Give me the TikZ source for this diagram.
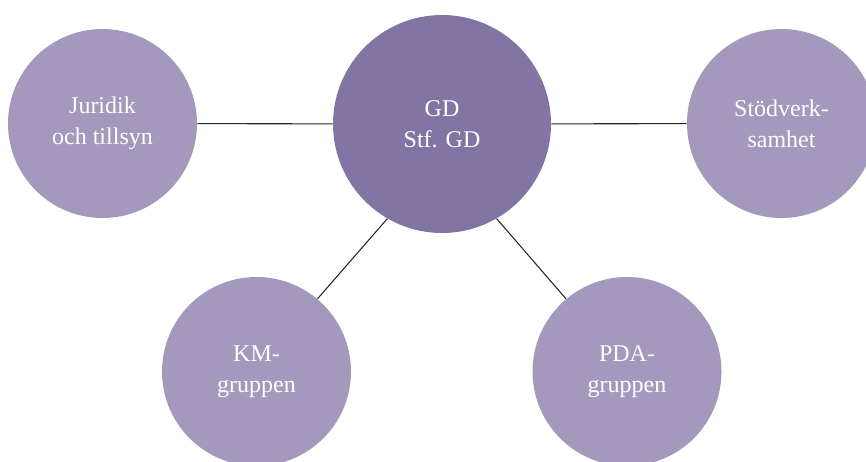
\documentclass[tikz,border=0pt]{standalone}
\usepackage{fontspec}
\setmainfont{Liberation Serif}
\usepackage{xcolor}
\definecolor{lilac}{RGB}{164,152,188}
\definecolor{plum}{RGB}{130,117,163}
\tikzset{
    unit-circle/.style = {circle, fill=lilac, text=white, minimum size=141.75pt, inner sep=0pt, align=center, font=\fontsize{18}{23.5}\selectfont},
    head-circle/.style = {unit-circle, fill=plum, minimum size=163.5pt},
    link-line/.style = {draw=black!85, line width=0.8pt},
}
\begin{document}
\begin{tikzpicture}[x=0.75pt, y=-0.75pt]
\useasboundingbox (0,0) rectangle (866,461);
\clip (0,0) rectangle (866,461);
\node [head-circle] (gd) at (442,124) {GD\\Stf. GD};
\node [unit-circle] (juridik) at (102.5,123.5) {Juridik\\och tillsyn};
\node [unit-circle] (stod) at (781.5,123.5) {Stödverk-\\samhet};
\node [unit-circle] (km) at (256.5,371.5) {KM-\\gruppen};
\node [unit-circle] (pda) at (627,371.5) {PDA-\\gruppen};
\draw [link-line] (juridik) -- (gd);
\draw [link-line] (gd) -- (stod);
\draw [link-line] (gd.240) -- (km.50);
\draw [link-line] (gd.300) -- (pda.130);
\end{tikzpicture}
\end{document}
